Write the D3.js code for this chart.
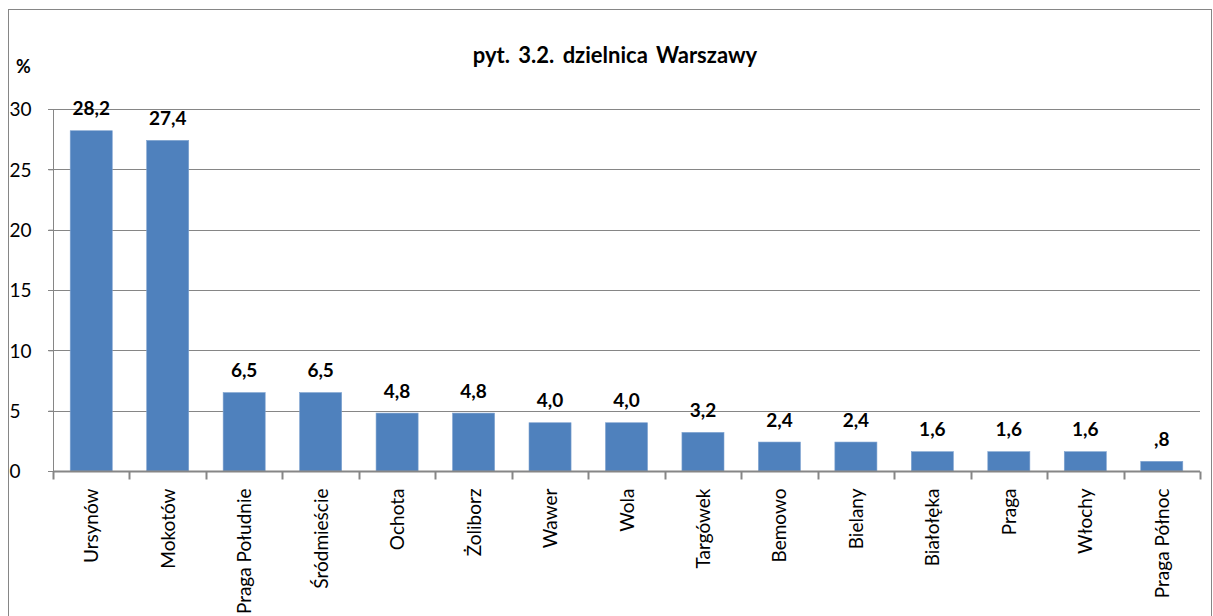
<!DOCTYPE html>
<html><head><meta charset="utf-8">
<script src="https://cdn.jsdelivr.net/npm/d3@7"></script>
<style>body{margin:0;background:#fff}svg{display:block}text{font-family:Lato,"Open Sans",sans-serif}</style>
</head><body>
<svg id="c" width="1213" height="616"></svg>
<script>
const categories = ["Ursynów","Mokotów","Praga Południe","Śródmieście","Ochota","Żoliborz","Wawer","Wola","Targówek","Bemowo","Bielany","Białołęka","Praga","Włochy","Praga Północ"];
const values = [28.2,27.4,6.5,6.5,4.8,4.8,4.0,4.0,3.2,2.4,2.4,1.6,1.6,1.6,0.8];
const valueLabels = ["28,2","27,4","6,5","6,5","4,8","4,8","4,0","4,0","3,2","2,4","2,4","1,6","1,6","1,6",",8"];
const yTicks = [0,5,10,15,20,25,30];
const title = "pyt. 3.2. dzielnica Warszawy";

const svg = d3.select("#c");
const grey = "#868686";
svg.append("rect").attr("x",8.5).attr("y",9.5).attr("width",1203).attr("height",640)
  .attr("fill","none").attr("stroke",grey);

const x = d3.scaleBand().domain(categories).range([53,1200]).paddingInner(0.45).paddingOuter(0.225);
const y = d3.scaleLinear().domain([0,30]).range([471,109]);

// gridlines
svg.append("g").selectAll("line").data(yTicks).join("line")
  .attr("x1",48).attr("x2",1200).attr("y1",d=>Math.round(y(d))+0.5).attr("y2",d=>Math.round(y(d))+0.5)
  .attr("stroke",grey).attr("stroke-width",1);

// y axis
const ya = svg.append("g").attr("transform","translate(53.5,0)")
  .call(d3.axisLeft(y).tickValues(yTicks).tickSize(5).tickPadding(20).tickFormat(d3.format("d")));
ya.select(".domain").attr("stroke",grey).attr("d","M0,"+y(30)+"V"+(y(0)+0.5));
ya.selectAll(".tick line").attr("stroke",grey);
ya.selectAll(".tick text").attr("font-size",19).attr("fill","#000").attr("text-anchor","start").attr("x",-44).attr("dy","0.36em");

// bars
svg.append("g").selectAll("rect").data(values).join("rect")
  .attr("x",(d,i)=>x(categories[i])).attr("width",x.bandwidth())
  .attr("y",d=>y(d)).attr("height",d=>y(0)-y(d))
  .attr("fill","#4F81BD").attr("stroke","#7FA3D0").attr("stroke-width",0.6);

// x axis
const xa = svg.append("g").attr("transform","translate(0,"+(Math.round(y(0))+0.5)+")");
xa.append("line").attr("x1",53).attr("x2",1200).attr("stroke",grey).attr("stroke-width",2);
const edges = d3.range(categories.length+1).map(i=>53+i*x.step());
xa.selectAll("line.t").data(edges).join("line").attr("class","t")
  .attr("x1",d=>Math.round(d)+0.5).attr("x2",d=>Math.round(d)+0.5).attr("y1",0).attr("y2",8)
  .attr("stroke",grey).attr("stroke-width",2);
xa.selectAll("text").data(categories).join("text")
  .attr("transform",d=>"translate("+(x(d)+x.bandwidth()/2+7)+",17) rotate(-90)")
  .attr("text-anchor","end").attr("font-size",19).attr("fill","#000").text(d=>d);

// value labels
svg.append("g").selectAll("text").data(values).join("text")
  .attr("x",(d,i)=>x(categories[i])+x.bandwidth()/2)
  .attr("y",d=>y(d)-15.5)
  .attr("text-anchor","middle").attr("font-size",19).attr("font-weight","bold").attr("fill","#000")
  .text((d,i)=>valueLabels[i]);

svg.append("text").attr("x",615).attr("y",63).attr("text-anchor","middle")
  .attr("font-size",22).attr("font-weight","bold").attr("word-spacing",3).text(title);
svg.append("text").attr("x",16).attr("y",73).attr("font-size",18).attr("font-weight","bold").text("%");
</script>
</body></html>
